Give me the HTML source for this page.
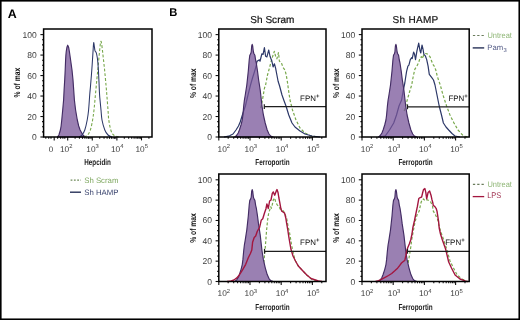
<!DOCTYPE html>
<html><head><meta charset="utf-8"><style>
html,body{margin:0;padding:0;background:#fff;width:520px;height:320px;overflow:hidden}
svg{display:block;will-change:transform}
text{font-family:"Liberation Sans", sans-serif;text-rendering:geometricPrecision}
</style></head><body>
<svg width="520" height="320" viewBox="0 0 520 320" font-family='"Liberation Sans", sans-serif'>
<rect width="520" height="320" fill="#fff"/>
<text x="7.7" y="17.8" font-size="12.4" font-weight="bold" fill="#000">A</text>
<text x="169.2" y="15.8" font-size="11.2" font-weight="bold" fill="#000">B</text>
<path d="M57.40,137.00 L58.90,135.00 L60.40,130.00 L61.10,126.00 L61.75,120.00 L62.70,110.00 L63.60,100.00 L64.10,90.00 L64.70,80.00 L65.20,70.00 L65.60,60.00 L65.90,55.00 L66.30,51.00 L66.80,48.00 L67.20,46.40 L67.70,45.20 L68.30,46.40 L68.80,48.00 L69.60,53.00 L70.60,60.00 L72.00,70.00 L73.00,80.00 L73.70,90.00 L74.40,100.00 L75.60,110.00 L77.30,120.00 L78.70,126.00 L80.10,130.00 L82.90,135.00 L85.20,137.00 Z" fill="#9a80b2" stroke="#432c64" stroke-width="1.15" stroke-linejoin="round"/>
<path d="M84.00,137.00 C84.60,136.67 86.53,136.17 87.60,135.00 C88.67,133.83 89.57,132.50 90.40,130.00 C91.23,127.50 92.00,123.33 92.60,120.00 C93.20,116.67 93.53,114.17 94.00,110.00 C94.47,105.83 94.93,100.00 95.40,95.00 C95.87,90.00 96.37,84.50 96.80,80.00 C97.23,75.50 97.60,72.17 98.00,68.00 C98.40,63.83 98.83,58.83 99.20,55.00 C99.57,51.17 99.93,47.27 100.20,45.00 C100.47,42.73 100.58,41.73 100.80,41.40 C101.02,41.07 101.23,41.57 101.50,43.00 C101.77,44.43 102.10,47.50 102.40,50.00 C102.70,52.50 102.93,54.67 103.30,58.00 C103.67,61.33 104.15,65.50 104.60,70.00 C105.05,74.50 105.60,80.50 106.00,85.00 C106.40,89.50 106.67,92.83 107.00,97.00 C107.33,101.17 107.70,106.17 108.00,110.00 C108.30,113.83 108.33,116.67 108.80,120.00 C109.27,123.33 110.00,127.50 110.80,130.00 C111.60,132.50 112.23,133.83 113.60,135.00 C114.97,136.17 118.10,136.67 119.00,137.00" fill="none" stroke="#78a84c" stroke-width="1.1" stroke-dasharray="2.8,1.9" stroke-linejoin="round"/>
<path d="M79.00,137.00 C79.50,136.67 81.03,136.17 82.00,135.00 C82.97,133.83 83.93,132.50 84.80,130.00 C85.67,127.50 86.57,123.33 87.20,120.00 C87.83,116.67 88.18,114.17 88.60,110.00 C89.02,105.83 89.37,99.17 89.70,95.00 C90.03,90.83 90.25,89.17 90.60,85.00 C90.95,80.83 91.43,75.00 91.80,70.00 C92.17,65.00 92.55,58.83 92.80,55.00 C93.05,51.17 93.15,49.07 93.30,47.00 C93.45,44.93 93.53,42.77 93.70,42.60 C93.87,42.43 94.10,44.70 94.30,46.00 C94.50,47.30 94.70,49.48 94.90,50.40 C95.10,51.32 95.30,51.17 95.50,51.50 C95.70,51.83 95.88,51.82 96.10,52.40 C96.32,52.98 96.55,53.73 96.80,55.00 C97.05,56.27 97.33,57.50 97.60,60.00 C97.87,62.50 98.17,66.33 98.40,70.00 C98.63,73.67 98.80,77.83 99.00,82.00 C99.20,86.17 99.27,90.33 99.60,95.00 C99.93,99.67 100.60,105.83 101.00,110.00 C101.40,114.17 101.37,116.67 102.00,120.00 C102.63,123.33 103.80,127.50 104.80,130.00 C105.80,132.50 106.80,133.83 108.00,135.00 C109.20,136.17 111.33,136.67 112.00,137.00" fill="none" stroke="#2c3868" stroke-width="1.05" stroke-linejoin="round"/>
<line x1="40.40" y1="137.00" x2="43.60" y2="137.00" stroke="#111" stroke-width="1.1"/><text x="36.80" y="140.00" font-size="8.5" text-anchor="end" fill="#3a3a3a">0</text><line x1="42.00" y1="131.88" x2="43.60" y2="131.88" stroke="#111" stroke-width="1.1"/><line x1="42.00" y1="126.76" x2="43.60" y2="126.76" stroke="#111" stroke-width="1.1"/><line x1="42.00" y1="121.64" x2="43.60" y2="121.64" stroke="#111" stroke-width="1.1"/><line x1="40.40" y1="116.52" x2="43.60" y2="116.52" stroke="#111" stroke-width="1.1"/><text x="36.80" y="119.52" font-size="8.5" text-anchor="end" fill="#3a3a3a">20</text><line x1="42.00" y1="111.40" x2="43.60" y2="111.40" stroke="#111" stroke-width="1.1"/><line x1="42.00" y1="106.28" x2="43.60" y2="106.28" stroke="#111" stroke-width="1.1"/><line x1="42.00" y1="101.16" x2="43.60" y2="101.16" stroke="#111" stroke-width="1.1"/><line x1="40.40" y1="96.04" x2="43.60" y2="96.04" stroke="#111" stroke-width="1.1"/><text x="36.80" y="99.04" font-size="8.5" text-anchor="end" fill="#3a3a3a">40</text><line x1="42.00" y1="90.92" x2="43.60" y2="90.92" stroke="#111" stroke-width="1.1"/><line x1="42.00" y1="85.80" x2="43.60" y2="85.80" stroke="#111" stroke-width="1.1"/><line x1="42.00" y1="80.68" x2="43.60" y2="80.68" stroke="#111" stroke-width="1.1"/><line x1="40.40" y1="75.56" x2="43.60" y2="75.56" stroke="#111" stroke-width="1.1"/><text x="36.80" y="78.56" font-size="8.5" text-anchor="end" fill="#3a3a3a">60</text><line x1="42.00" y1="70.44" x2="43.60" y2="70.44" stroke="#111" stroke-width="1.1"/><line x1="42.00" y1="65.32" x2="43.60" y2="65.32" stroke="#111" stroke-width="1.1"/><line x1="42.00" y1="60.20" x2="43.60" y2="60.20" stroke="#111" stroke-width="1.1"/><line x1="40.40" y1="55.08" x2="43.60" y2="55.08" stroke="#111" stroke-width="1.1"/><text x="36.80" y="58.08" font-size="8.5" text-anchor="end" fill="#3a3a3a">80</text><line x1="42.00" y1="49.96" x2="43.60" y2="49.96" stroke="#111" stroke-width="1.1"/><line x1="42.00" y1="44.84" x2="43.60" y2="44.84" stroke="#111" stroke-width="1.1"/><line x1="42.00" y1="39.72" x2="43.60" y2="39.72" stroke="#111" stroke-width="1.1"/><line x1="40.40" y1="34.60" x2="43.60" y2="34.60" stroke="#111" stroke-width="1.1"/><text x="36.80" y="37.60" font-size="8.5" text-anchor="end" fill="#3a3a3a">100</text><line x1="67.70" y1="137.00" x2="67.70" y2="140.40" stroke="#111" stroke-width="1.1"/><line x1="75.11" y1="137.00" x2="75.11" y2="138.80" stroke="#111" stroke-width="1.1"/><line x1="79.44" y1="137.00" x2="79.44" y2="138.80" stroke="#111" stroke-width="1.1"/><line x1="82.51" y1="137.00" x2="82.51" y2="138.80" stroke="#111" stroke-width="1.1"/><line x1="84.89" y1="137.00" x2="84.89" y2="138.80" stroke="#111" stroke-width="1.1"/><line x1="86.84" y1="137.00" x2="86.84" y2="138.80" stroke="#111" stroke-width="1.1"/><line x1="88.49" y1="137.00" x2="88.49" y2="138.80" stroke="#111" stroke-width="1.1"/><line x1="89.92" y1="137.00" x2="89.92" y2="138.80" stroke="#111" stroke-width="1.1"/><line x1="91.17" y1="137.00" x2="91.17" y2="138.80" stroke="#111" stroke-width="1.1"/><line x1="92.30" y1="137.00" x2="92.30" y2="140.40" stroke="#111" stroke-width="1.1"/><line x1="99.71" y1="137.00" x2="99.71" y2="138.80" stroke="#111" stroke-width="1.1"/><line x1="104.04" y1="137.00" x2="104.04" y2="138.80" stroke="#111" stroke-width="1.1"/><line x1="107.11" y1="137.00" x2="107.11" y2="138.80" stroke="#111" stroke-width="1.1"/><line x1="109.49" y1="137.00" x2="109.49" y2="138.80" stroke="#111" stroke-width="1.1"/><line x1="111.44" y1="137.00" x2="111.44" y2="138.80" stroke="#111" stroke-width="1.1"/><line x1="113.09" y1="137.00" x2="113.09" y2="138.80" stroke="#111" stroke-width="1.1"/><line x1="114.52" y1="137.00" x2="114.52" y2="138.80" stroke="#111" stroke-width="1.1"/><line x1="115.77" y1="137.00" x2="115.77" y2="138.80" stroke="#111" stroke-width="1.1"/><line x1="116.90" y1="137.00" x2="116.90" y2="140.40" stroke="#111" stroke-width="1.1"/><line x1="124.31" y1="137.00" x2="124.31" y2="138.80" stroke="#111" stroke-width="1.1"/><line x1="128.64" y1="137.00" x2="128.64" y2="138.80" stroke="#111" stroke-width="1.1"/><line x1="131.71" y1="137.00" x2="131.71" y2="138.80" stroke="#111" stroke-width="1.1"/><line x1="134.09" y1="137.00" x2="134.09" y2="138.80" stroke="#111" stroke-width="1.1"/><line x1="136.04" y1="137.00" x2="136.04" y2="138.80" stroke="#111" stroke-width="1.1"/><line x1="137.69" y1="137.00" x2="137.69" y2="138.80" stroke="#111" stroke-width="1.1"/><line x1="139.12" y1="137.00" x2="139.12" y2="138.80" stroke="#111" stroke-width="1.1"/><line x1="140.37" y1="137.00" x2="140.37" y2="138.80" stroke="#111" stroke-width="1.1"/><line x1="141.50" y1="137.00" x2="141.50" y2="140.40" stroke="#111" stroke-width="1.1"/><line x1="148.91" y1="137.00" x2="148.91" y2="138.80" stroke="#111" stroke-width="1.1"/><line x1="45.80" y1="137.00" x2="45.80" y2="138.80" stroke="#111" stroke-width="1.1"/><line x1="48.70" y1="137.00" x2="48.70" y2="138.80" stroke="#111" stroke-width="1.1"/><line x1="51.00" y1="137.00" x2="51.00" y2="138.80" stroke="#111" stroke-width="1.1"/><line x1="54.20" y1="137.00" x2="54.20" y2="140.40" stroke="#111" stroke-width="1.1"/><line x1="57.60" y1="137.00" x2="57.60" y2="138.80" stroke="#111" stroke-width="1.1"/><line x1="60.60" y1="137.00" x2="60.60" y2="138.80" stroke="#111" stroke-width="1.1"/><line x1="62.90" y1="137.00" x2="62.90" y2="138.80" stroke="#111" stroke-width="1.1"/><line x1="64.80" y1="137.00" x2="64.80" y2="138.80" stroke="#111" stroke-width="1.1"/><rect x="43.60" y="29.00" width="108.40" height="108.00" fill="none" stroke="#000" stroke-width="1.5"/>
<text x="51" y="151.6" font-size="8" text-anchor="middle" fill="#3a3a3a">0</text>
<text x="66.20" y="151.60" font-size="8.3" text-anchor="middle" fill="#3a3a3a">10<tspan font-size="5.8" dy="-3.3">2</tspan></text>
<text x="92.60" y="151.60" font-size="8.3" text-anchor="middle" fill="#3a3a3a">10<tspan font-size="5.8" dy="-3.3">3</tspan></text>
<text x="117.20" y="151.60" font-size="8.3" text-anchor="middle" fill="#3a3a3a">10<tspan font-size="5.8" dy="-3.3">4</tspan></text>
<text x="141.70" y="151.60" font-size="8.3" text-anchor="middle" fill="#3a3a3a">10<tspan font-size="5.8" dy="-3.3">5</tspan></text>
<text transform="translate(19.90,82.60) rotate(-90)" x="0" y="0" font-size="8.6" font-weight="bold" text-anchor="middle" fill="#111" textLength="29.6" lengthAdjust="spacingAndGlyphs">% of max</text>
<text x="97.60" y="165.40" font-size="8.6" font-weight="bold" text-anchor="middle" fill="#1a1a1a" textLength="26.6" lengthAdjust="spacingAndGlyphs">Hepcidin</text>
<line x1="70.6" y1="180.1" x2="81" y2="180.1" stroke="#6f8a5a" stroke-width="1.2" stroke-dasharray="1.8,1.5"/>
<text x="84.2" y="182.6" font-size="7.8" fill="#7fa860">Sh Scram</text>
<line x1="70" y1="192.2" x2="81" y2="192.2" stroke="#283258" stroke-width="1.4"/>
<text x="84.2" y="194.9" font-size="7.8" fill="#3c4670">Sh HAMP</text>
<path d="M260.80,108.00 L261.60,104.00 L262.40,100.00 L264.50,88.00 L265.60,85.00 L267.50,75.00 L269.40,68.10 L271.25,61.25 L273.10,55.00 L274.40,51.25 L275.60,56.25 L276.90,58.75 L278.50,52.50 L279.40,61.25 L281.25,62.50 L283.10,67.50 L285.00,70.00 L286.25,75.00 L287.50,82.50 L288.50,90.00 L290.00,100.00 L292.50,110.00 L296.00,120.00 L300.00,128.00 L305.00,133.00 L310.00,135.50 L318.00,137.00" fill="none" stroke="#78a84c" stroke-width="1.2" stroke-dasharray="2.8,1.9" stroke-linejoin="round"/>
<path d="M224.00,137.00 L229.60,135.80 L233.00,134.00 L236.00,130.00 L238.50,126.00 L240.20,122.00 L243.00,113.00 L245.40,106.00 L248.00,95.00 L250.50,85.00 L252.50,78.00 L254.25,72.50 L256.10,66.25 L256.90,61.50 L257.80,60.70 L259.40,59.90 L260.00,61.25 L261.90,53.75 L263.10,54.40 L264.40,47.50 L265.60,56.25 L266.90,56.90 L268.75,50.00 L270.00,56.25 L271.90,61.25 L273.10,66.90 L274.40,63.75 L275.60,68.10 L276.90,75.00 L278.10,81.25 L279.60,86.00 L282.00,95.00 L283.75,100.00 L286.00,106.00 L288.75,115.00 L292.00,123.00 L295.00,127.00 L300.00,131.00 L305.00,134.00 L312.00,136.00 L320.00,137.00" fill="none" stroke="#2c3868" stroke-width="1.2" stroke-linejoin="round"/>
<path d="M234.70,137.00 L236.00,136.00 L236.90,135.00 L238.20,133.00 L239.40,130.00 L241.00,125.00 L242.25,120.00 L242.90,115.00 L243.70,106.00 L244.40,100.00 L245.10,96.00 L246.80,85.00 L248.30,71.00 L249.20,60.00 L249.80,55.30 L250.70,53.80 L251.20,52.00 L251.40,49.50 L251.70,46.00 L252.20,44.40 L252.70,46.00 L253.10,49.50 L253.40,52.00 L254.00,53.80 L254.90,55.30 L255.60,60.00 L256.30,63.00 L257.50,71.00 L258.50,79.00 L260.20,90.00 L262.00,106.00 L263.40,115.00 L265.20,123.00 L267.20,130.00 L269.00,134.00 L270.70,136.00 L273.20,137.00 Z" fill="#78569a" fill-opacity="0.75" stroke="#432c64" stroke-width="1.15" stroke-linejoin="round"/>
<line x1="264.30" y1="106.70" x2="326.00" y2="106.70" stroke="#1e1e1e" stroke-width="1.2"/><line x1="264.30" y1="104.30" x2="264.30" y2="109.10" stroke="#1e1e1e" stroke-width="1.2"/>
<text x="300.10" y="100.60" font-size="7.9" fill="#111">FPN<tspan font-size="6" font-weight="bold" dx="0.1" dy="-3.1">+</tspan></text>
<line x1="215.60" y1="137.00" x2="218.80" y2="137.00" stroke="#111" stroke-width="1.1"/><text x="212.00" y="140.00" font-size="8.5" text-anchor="end" fill="#3a3a3a">0</text><line x1="217.20" y1="131.88" x2="218.80" y2="131.88" stroke="#111" stroke-width="1.1"/><line x1="217.20" y1="126.76" x2="218.80" y2="126.76" stroke="#111" stroke-width="1.1"/><line x1="217.20" y1="121.64" x2="218.80" y2="121.64" stroke="#111" stroke-width="1.1"/><line x1="215.60" y1="116.52" x2="218.80" y2="116.52" stroke="#111" stroke-width="1.1"/><text x="212.00" y="119.52" font-size="8.5" text-anchor="end" fill="#3a3a3a">20</text><line x1="217.20" y1="111.40" x2="218.80" y2="111.40" stroke="#111" stroke-width="1.1"/><line x1="217.20" y1="106.28" x2="218.80" y2="106.28" stroke="#111" stroke-width="1.1"/><line x1="217.20" y1="101.16" x2="218.80" y2="101.16" stroke="#111" stroke-width="1.1"/><line x1="215.60" y1="96.04" x2="218.80" y2="96.04" stroke="#111" stroke-width="1.1"/><text x="212.00" y="99.04" font-size="8.5" text-anchor="end" fill="#3a3a3a">40</text><line x1="217.20" y1="90.92" x2="218.80" y2="90.92" stroke="#111" stroke-width="1.1"/><line x1="217.20" y1="85.80" x2="218.80" y2="85.80" stroke="#111" stroke-width="1.1"/><line x1="217.20" y1="80.68" x2="218.80" y2="80.68" stroke="#111" stroke-width="1.1"/><line x1="215.60" y1="75.56" x2="218.80" y2="75.56" stroke="#111" stroke-width="1.1"/><text x="212.00" y="78.56" font-size="8.5" text-anchor="end" fill="#3a3a3a">60</text><line x1="217.20" y1="70.44" x2="218.80" y2="70.44" stroke="#111" stroke-width="1.1"/><line x1="217.20" y1="65.32" x2="218.80" y2="65.32" stroke="#111" stroke-width="1.1"/><line x1="217.20" y1="60.20" x2="218.80" y2="60.20" stroke="#111" stroke-width="1.1"/><line x1="215.60" y1="55.08" x2="218.80" y2="55.08" stroke="#111" stroke-width="1.1"/><text x="212.00" y="58.08" font-size="8.5" text-anchor="end" fill="#3a3a3a">80</text><line x1="217.20" y1="49.96" x2="218.80" y2="49.96" stroke="#111" stroke-width="1.1"/><line x1="217.20" y1="44.84" x2="218.80" y2="44.84" stroke="#111" stroke-width="1.1"/><line x1="217.20" y1="39.72" x2="218.80" y2="39.72" stroke="#111" stroke-width="1.1"/><line x1="215.60" y1="34.60" x2="218.80" y2="34.60" stroke="#111" stroke-width="1.1"/><text x="212.00" y="37.60" font-size="8.5" text-anchor="end" fill="#3a3a3a">100</text><line x1="218.80" y1="137.00" x2="218.80" y2="140.40" stroke="#111" stroke-width="1.1"/><line x1="228.19" y1="137.00" x2="228.19" y2="138.80" stroke="#111" stroke-width="1.1"/><line x1="233.69" y1="137.00" x2="233.69" y2="138.80" stroke="#111" stroke-width="1.1"/><line x1="237.58" y1="137.00" x2="237.58" y2="138.80" stroke="#111" stroke-width="1.1"/><line x1="240.61" y1="137.00" x2="240.61" y2="138.80" stroke="#111" stroke-width="1.1"/><line x1="243.08" y1="137.00" x2="243.08" y2="138.80" stroke="#111" stroke-width="1.1"/><line x1="245.17" y1="137.00" x2="245.17" y2="138.80" stroke="#111" stroke-width="1.1"/><line x1="246.98" y1="137.00" x2="246.98" y2="138.80" stroke="#111" stroke-width="1.1"/><line x1="248.57" y1="137.00" x2="248.57" y2="138.80" stroke="#111" stroke-width="1.1"/><line x1="250.00" y1="137.00" x2="250.00" y2="140.40" stroke="#111" stroke-width="1.1"/><line x1="259.39" y1="137.00" x2="259.39" y2="138.80" stroke="#111" stroke-width="1.1"/><line x1="264.89" y1="137.00" x2="264.89" y2="138.80" stroke="#111" stroke-width="1.1"/><line x1="268.78" y1="137.00" x2="268.78" y2="138.80" stroke="#111" stroke-width="1.1"/><line x1="271.81" y1="137.00" x2="271.81" y2="138.80" stroke="#111" stroke-width="1.1"/><line x1="274.28" y1="137.00" x2="274.28" y2="138.80" stroke="#111" stroke-width="1.1"/><line x1="276.37" y1="137.00" x2="276.37" y2="138.80" stroke="#111" stroke-width="1.1"/><line x1="278.18" y1="137.00" x2="278.18" y2="138.80" stroke="#111" stroke-width="1.1"/><line x1="279.77" y1="137.00" x2="279.77" y2="138.80" stroke="#111" stroke-width="1.1"/><line x1="281.20" y1="137.00" x2="281.20" y2="140.40" stroke="#111" stroke-width="1.1"/><line x1="290.59" y1="137.00" x2="290.59" y2="138.80" stroke="#111" stroke-width="1.1"/><line x1="296.09" y1="137.00" x2="296.09" y2="138.80" stroke="#111" stroke-width="1.1"/><line x1="299.98" y1="137.00" x2="299.98" y2="138.80" stroke="#111" stroke-width="1.1"/><line x1="303.01" y1="137.00" x2="303.01" y2="138.80" stroke="#111" stroke-width="1.1"/><line x1="305.48" y1="137.00" x2="305.48" y2="138.80" stroke="#111" stroke-width="1.1"/><line x1="307.57" y1="137.00" x2="307.57" y2="138.80" stroke="#111" stroke-width="1.1"/><line x1="309.38" y1="137.00" x2="309.38" y2="138.80" stroke="#111" stroke-width="1.1"/><line x1="310.97" y1="137.00" x2="310.97" y2="138.80" stroke="#111" stroke-width="1.1"/><line x1="312.40" y1="137.00" x2="312.40" y2="140.40" stroke="#111" stroke-width="1.1"/><line x1="321.79" y1="137.00" x2="321.79" y2="138.80" stroke="#111" stroke-width="1.1"/><rect x="218.80" y="29.00" width="107.20" height="108.00" fill="none" stroke="#000" stroke-width="1.5"/><text x="223.80" y="151.60" font-size="8.3" text-anchor="middle" fill="#3a3a3a">10<tspan font-size="5.8" dy="-3.3">2</tspan></text><text x="250.80" y="151.60" font-size="8.3" text-anchor="middle" fill="#3a3a3a">10<tspan font-size="5.8" dy="-3.3">3</tspan></text><text x="282.00" y="151.60" font-size="8.3" text-anchor="middle" fill="#3a3a3a">10<tspan font-size="5.8" dy="-3.3">4</tspan></text><text x="313.20" y="151.60" font-size="8.3" text-anchor="middle" fill="#3a3a3a">10<tspan font-size="5.8" dy="-3.3">5</tspan></text><text transform="translate(195.70,83.20) rotate(-90)" x="0" y="0" font-size="8.6" font-weight="bold" text-anchor="middle" fill="#111" textLength="29.6" lengthAdjust="spacingAndGlyphs">% of max</text><text x="272.40" y="165.40" font-size="8.6" font-weight="bold" text-anchor="middle" fill="#1a1a1a" textLength="34.3" lengthAdjust="spacingAndGlyphs">Ferroportin</text><text x="272.40" y="22.7" font-size="10" letter-spacing="0.02" text-anchor="middle" fill="#111" stroke="#111" stroke-width="0.2">Sh Scram</text>
<path d="M404.20,111.00 L405.50,106.00 L407.25,100.00 L409.50,92.00 L411.70,85.00 L413.30,76.00 L414.90,69.10 L416.90,66.10 L418.70,62.40 L420.10,57.70 L421.60,56.70 L422.50,58.60 L423.90,54.40 L425.50,53.50 L427.20,53.90 L430.00,56.70 L431.40,60.50 L432.80,64.20 L434.20,66.10 L435.80,70.00 L437.10,75.50 L438.50,80.00 L440.30,85.00 L443.00,95.00 L446.60,106.00 L450.00,115.00 L454.00,123.00 L458.00,130.00 L463.50,136.00 L468.00,137.00" fill="none" stroke="#78a84c" stroke-width="1.2" stroke-dasharray="2.8,1.9" stroke-linejoin="round"/>
<path d="M380.00,137.00 L385.30,135.80 L389.50,130.00 L393.70,123.00 L396.50,115.00 L399.00,106.00 L401.60,100.00 L403.50,89.00 L404.80,83.00 L405.70,77.00 L406.60,71.30 L407.90,66.20 L408.90,65.20 L410.30,59.60 L411.70,57.70 L412.20,58.60 L413.60,52.10 L414.50,53.90 L415.50,59.60 L416.90,51.10 L418.70,43.20 L420.10,51.10 L420.80,53.00 L422.00,45.00 L423.00,49.20 L423.90,54.40 L425.30,55.80 L426.70,59.60 L428.10,66.10 L429.30,74.40 L431.80,77.60 L433.50,80.00 L435.00,85.00 L437.00,95.00 L439.20,106.00 L441.50,115.00 L443.40,123.00 L446.00,127.00 L448.70,130.00 L452.00,133.50 L455.00,136.00 L460.00,137.00" fill="none" stroke="#2c3868" stroke-width="1.2" stroke-linejoin="round"/>
<path d="M378.40,137.00 L379.70,136.00 L380.60,135.00 L381.90,133.00 L383.10,130.00 L384.70,125.00 L385.95,120.00 L386.60,115.00 L387.40,106.00 L388.10,100.00 L388.80,96.00 L390.50,85.00 L392.00,71.00 L392.90,60.00 L393.50,55.30 L394.40,53.80 L394.90,52.00 L395.10,49.50 L395.40,46.00 L395.90,44.40 L396.40,46.00 L396.80,49.50 L397.10,52.00 L397.70,53.80 L398.60,55.30 L399.30,60.00 L400.00,63.00 L401.20,71.00 L402.20,79.00 L403.90,90.00 L405.70,106.00 L407.10,115.00 L408.90,123.00 L410.90,130.00 L412.70,134.00 L414.40,136.00 L416.90,137.00 Z" fill="#78569a" fill-opacity="0.75" stroke="#432c64" stroke-width="1.15" stroke-linejoin="round"/>
<line x1="407.50" y1="106.80" x2="469.20" y2="106.80" stroke="#1e1e1e" stroke-width="1.2"/><line x1="407.50" y1="104.40" x2="407.50" y2="109.20" stroke="#1e1e1e" stroke-width="1.2"/>
<text x="448.40" y="100.60" font-size="7.9" fill="#111">FPN<tspan font-size="6" font-weight="bold" dx="0.1" dy="-3.1">+</tspan></text>
<line x1="358.80" y1="137.00" x2="362.00" y2="137.00" stroke="#111" stroke-width="1.1"/><text x="355.20" y="140.00" font-size="8.5" text-anchor="end" fill="#3a3a3a">0</text><line x1="360.40" y1="131.88" x2="362.00" y2="131.88" stroke="#111" stroke-width="1.1"/><line x1="360.40" y1="126.76" x2="362.00" y2="126.76" stroke="#111" stroke-width="1.1"/><line x1="360.40" y1="121.64" x2="362.00" y2="121.64" stroke="#111" stroke-width="1.1"/><line x1="358.80" y1="116.52" x2="362.00" y2="116.52" stroke="#111" stroke-width="1.1"/><text x="355.20" y="119.52" font-size="8.5" text-anchor="end" fill="#3a3a3a">20</text><line x1="360.40" y1="111.40" x2="362.00" y2="111.40" stroke="#111" stroke-width="1.1"/><line x1="360.40" y1="106.28" x2="362.00" y2="106.28" stroke="#111" stroke-width="1.1"/><line x1="360.40" y1="101.16" x2="362.00" y2="101.16" stroke="#111" stroke-width="1.1"/><line x1="358.80" y1="96.04" x2="362.00" y2="96.04" stroke="#111" stroke-width="1.1"/><text x="355.20" y="99.04" font-size="8.5" text-anchor="end" fill="#3a3a3a">40</text><line x1="360.40" y1="90.92" x2="362.00" y2="90.92" stroke="#111" stroke-width="1.1"/><line x1="360.40" y1="85.80" x2="362.00" y2="85.80" stroke="#111" stroke-width="1.1"/><line x1="360.40" y1="80.68" x2="362.00" y2="80.68" stroke="#111" stroke-width="1.1"/><line x1="358.80" y1="75.56" x2="362.00" y2="75.56" stroke="#111" stroke-width="1.1"/><text x="355.20" y="78.56" font-size="8.5" text-anchor="end" fill="#3a3a3a">60</text><line x1="360.40" y1="70.44" x2="362.00" y2="70.44" stroke="#111" stroke-width="1.1"/><line x1="360.40" y1="65.32" x2="362.00" y2="65.32" stroke="#111" stroke-width="1.1"/><line x1="360.40" y1="60.20" x2="362.00" y2="60.20" stroke="#111" stroke-width="1.1"/><line x1="358.80" y1="55.08" x2="362.00" y2="55.08" stroke="#111" stroke-width="1.1"/><text x="355.20" y="58.08" font-size="8.5" text-anchor="end" fill="#3a3a3a">80</text><line x1="360.40" y1="49.96" x2="362.00" y2="49.96" stroke="#111" stroke-width="1.1"/><line x1="360.40" y1="44.84" x2="362.00" y2="44.84" stroke="#111" stroke-width="1.1"/><line x1="360.40" y1="39.72" x2="362.00" y2="39.72" stroke="#111" stroke-width="1.1"/><line x1="358.80" y1="34.60" x2="362.00" y2="34.60" stroke="#111" stroke-width="1.1"/><text x="355.20" y="37.60" font-size="8.5" text-anchor="end" fill="#3a3a3a">100</text><line x1="362.00" y1="137.00" x2="362.00" y2="140.40" stroke="#111" stroke-width="1.1"/><line x1="371.39" y1="137.00" x2="371.39" y2="138.80" stroke="#111" stroke-width="1.1"/><line x1="376.89" y1="137.00" x2="376.89" y2="138.80" stroke="#111" stroke-width="1.1"/><line x1="380.78" y1="137.00" x2="380.78" y2="138.80" stroke="#111" stroke-width="1.1"/><line x1="383.81" y1="137.00" x2="383.81" y2="138.80" stroke="#111" stroke-width="1.1"/><line x1="386.28" y1="137.00" x2="386.28" y2="138.80" stroke="#111" stroke-width="1.1"/><line x1="388.37" y1="137.00" x2="388.37" y2="138.80" stroke="#111" stroke-width="1.1"/><line x1="390.18" y1="137.00" x2="390.18" y2="138.80" stroke="#111" stroke-width="1.1"/><line x1="391.77" y1="137.00" x2="391.77" y2="138.80" stroke="#111" stroke-width="1.1"/><line x1="393.20" y1="137.00" x2="393.20" y2="140.40" stroke="#111" stroke-width="1.1"/><line x1="402.59" y1="137.00" x2="402.59" y2="138.80" stroke="#111" stroke-width="1.1"/><line x1="408.09" y1="137.00" x2="408.09" y2="138.80" stroke="#111" stroke-width="1.1"/><line x1="411.98" y1="137.00" x2="411.98" y2="138.80" stroke="#111" stroke-width="1.1"/><line x1="415.01" y1="137.00" x2="415.01" y2="138.80" stroke="#111" stroke-width="1.1"/><line x1="417.48" y1="137.00" x2="417.48" y2="138.80" stroke="#111" stroke-width="1.1"/><line x1="419.57" y1="137.00" x2="419.57" y2="138.80" stroke="#111" stroke-width="1.1"/><line x1="421.38" y1="137.00" x2="421.38" y2="138.80" stroke="#111" stroke-width="1.1"/><line x1="422.97" y1="137.00" x2="422.97" y2="138.80" stroke="#111" stroke-width="1.1"/><line x1="424.40" y1="137.00" x2="424.40" y2="140.40" stroke="#111" stroke-width="1.1"/><line x1="433.79" y1="137.00" x2="433.79" y2="138.80" stroke="#111" stroke-width="1.1"/><line x1="439.29" y1="137.00" x2="439.29" y2="138.80" stroke="#111" stroke-width="1.1"/><line x1="443.18" y1="137.00" x2="443.18" y2="138.80" stroke="#111" stroke-width="1.1"/><line x1="446.21" y1="137.00" x2="446.21" y2="138.80" stroke="#111" stroke-width="1.1"/><line x1="448.68" y1="137.00" x2="448.68" y2="138.80" stroke="#111" stroke-width="1.1"/><line x1="450.77" y1="137.00" x2="450.77" y2="138.80" stroke="#111" stroke-width="1.1"/><line x1="452.58" y1="137.00" x2="452.58" y2="138.80" stroke="#111" stroke-width="1.1"/><line x1="454.17" y1="137.00" x2="454.17" y2="138.80" stroke="#111" stroke-width="1.1"/><line x1="455.60" y1="137.00" x2="455.60" y2="140.40" stroke="#111" stroke-width="1.1"/><line x1="464.99" y1="137.00" x2="464.99" y2="138.80" stroke="#111" stroke-width="1.1"/><rect x="362.00" y="29.00" width="107.20" height="108.00" fill="none" stroke="#000" stroke-width="1.5"/><text x="367.00" y="151.60" font-size="8.3" text-anchor="middle" fill="#3a3a3a">10<tspan font-size="5.8" dy="-3.3">2</tspan></text><text x="394.00" y="151.60" font-size="8.3" text-anchor="middle" fill="#3a3a3a">10<tspan font-size="5.8" dy="-3.3">3</tspan></text><text x="425.20" y="151.60" font-size="8.3" text-anchor="middle" fill="#3a3a3a">10<tspan font-size="5.8" dy="-3.3">4</tspan></text><text x="456.40" y="151.60" font-size="8.3" text-anchor="middle" fill="#3a3a3a">10<tspan font-size="5.8" dy="-3.3">5</tspan></text><text transform="translate(338.90,83.20) rotate(-90)" x="0" y="0" font-size="8.6" font-weight="bold" text-anchor="middle" fill="#111" textLength="29.6" lengthAdjust="spacingAndGlyphs">% of max</text><text x="415.60" y="165.40" font-size="8.6" font-weight="bold" text-anchor="middle" fill="#1a1a1a" textLength="34.3" lengthAdjust="spacingAndGlyphs">Ferroportin</text><text x="415.60" y="22.7" font-size="10" letter-spacing="0.3" text-anchor="middle" fill="#111" stroke="#111" stroke-width="0.2">Sh HAMP</text>
<line x1="472.9" y1="35.5" x2="484.4" y2="35.5" stroke="#6a7c5c" stroke-width="1.2" stroke-dasharray="2.3,2"/>
<text x="487.5" y="37.8" font-size="8" fill="#8db574" textLength="24.4" lengthAdjust="spacingAndGlyphs">Untreat</text>
<line x1="472.7" y1="47.9" x2="484.2" y2="47.9" stroke="#283258" stroke-width="1.4"/>
<text x="487.3" y="49.6" font-size="7.7" fill="#525a85">Pam<tspan font-size="5.8" dx="0.3" dy="2.6">3</tspan></text>
<path d="M262.00,281.50 L263.00,272.00 L264.00,260.00 L265.00,251.00 L266.60,230.00 L267.60,220.00 L268.70,213.00 L270.80,206.70 L271.40,208.30 L272.30,204.60 L273.30,199.90 L274.70,198.00 L275.60,201.70 L277.00,204.60 L278.90,206.40 L280.30,209.20 L283.50,211.00 L285.00,214.00 L286.80,219.00 L288.00,226.00 L289.60,233.00 L291.60,245.00 L292.80,251.00 L295.00,260.00 L298.30,266.00 L306.80,275.00 L312.00,279.50 L320.00,281.50" fill="none" stroke="#78a84c" stroke-width="1.2" stroke-dasharray="2.8,1.9" stroke-linejoin="round"/>
<path d="M234.70,281.50 L236.00,280.51 L236.90,279.51 L238.20,277.53 L239.40,274.55 L241.00,269.58 L242.25,264.62 L242.90,259.65 L243.70,250.72 L244.40,244.76 L245.10,240.79 L246.80,229.86 L248.30,215.96 L249.20,205.04 L249.80,200.37 L250.70,198.88 L251.20,197.09 L251.40,194.61 L251.70,191.14 L252.20,189.55 L252.70,191.14 L253.10,194.61 L253.40,197.09 L254.00,198.88 L254.90,200.37 L255.60,205.04 L256.30,208.02 L257.50,215.96 L258.50,223.91 L260.20,234.83 L262.00,250.72 L263.40,259.65 L265.20,267.60 L267.20,274.55 L269.00,278.52 L270.70,280.51 L273.20,281.50 Z" fill="#9a80b2" stroke="#432c64" stroke-width="1.15" stroke-linejoin="round"/>
<path d="M227.00,281.50 L230.00,281.30 L233.90,280.00 L236.50,278.20 L238.50,276.10 L240.50,273.20 L242.40,270.20 L244.00,267.30 L245.70,264.30 L247.00,261.00 L248.30,257.70 L250.30,253.80 L251.80,250.00 L252.60,242.20 L254.20,237.50 L255.70,236.00 L257.30,231.25 L259.60,227.30 L261.20,220.30 L262.75,218.75 L264.50,213.00 L265.90,209.00 L266.90,204.00 L268.30,208.50 L269.60,201.00 L271.00,200.00 L272.30,193.30 L273.30,191.90 L274.70,195.20 L276.10,191.40 L277.00,189.60 L278.00,192.40 L278.90,198.00 L279.80,202.70 L280.80,208.30 L281.70,211.10 L283.00,212.00 L284.60,213.10 L285.80,218.00 L286.70,223.70 L287.80,230.00 L289.00,238.00 L290.90,249.00 L293.00,256.00 L295.50,261.00 L298.30,266.00 L302.00,270.00 L306.80,275.00 L311.00,278.50 L318.40,281.00 L322.00,281.50" fill="none" stroke="#a3163f" stroke-width="1.4" stroke-linejoin="round"/>
<line x1="264.50" y1="251.30" x2="326.00" y2="251.30" stroke="#1e1e1e" stroke-width="1.2"/><line x1="264.50" y1="248.90" x2="264.50" y2="253.70" stroke="#1e1e1e" stroke-width="1.2"/>
<text x="300.10" y="245.20" font-size="7.9" fill="#111">FPN<tspan font-size="6" font-weight="bold" dx="0.1" dy="-3.1">+</tspan></text>
<line x1="215.60" y1="281.50" x2="218.80" y2="281.50" stroke="#111" stroke-width="1.1"/><text x="212.00" y="284.50" font-size="8.5" text-anchor="end" fill="#3a3a3a">0</text><line x1="217.20" y1="276.42" x2="218.80" y2="276.42" stroke="#111" stroke-width="1.1"/><line x1="217.20" y1="271.33" x2="218.80" y2="271.33" stroke="#111" stroke-width="1.1"/><line x1="217.20" y1="266.25" x2="218.80" y2="266.25" stroke="#111" stroke-width="1.1"/><line x1="215.60" y1="261.16" x2="218.80" y2="261.16" stroke="#111" stroke-width="1.1"/><text x="212.00" y="264.16" font-size="8.5" text-anchor="end" fill="#3a3a3a">20</text><line x1="217.20" y1="256.07" x2="218.80" y2="256.07" stroke="#111" stroke-width="1.1"/><line x1="217.20" y1="250.99" x2="218.80" y2="250.99" stroke="#111" stroke-width="1.1"/><line x1="217.20" y1="245.91" x2="218.80" y2="245.91" stroke="#111" stroke-width="1.1"/><line x1="215.60" y1="240.82" x2="218.80" y2="240.82" stroke="#111" stroke-width="1.1"/><text x="212.00" y="243.82" font-size="8.5" text-anchor="end" fill="#3a3a3a">40</text><line x1="217.20" y1="235.74" x2="218.80" y2="235.74" stroke="#111" stroke-width="1.1"/><line x1="217.20" y1="230.65" x2="218.80" y2="230.65" stroke="#111" stroke-width="1.1"/><line x1="217.20" y1="225.56" x2="218.80" y2="225.56" stroke="#111" stroke-width="1.1"/><line x1="215.60" y1="220.48" x2="218.80" y2="220.48" stroke="#111" stroke-width="1.1"/><text x="212.00" y="223.48" font-size="8.5" text-anchor="end" fill="#3a3a3a">60</text><line x1="217.20" y1="215.40" x2="218.80" y2="215.40" stroke="#111" stroke-width="1.1"/><line x1="217.20" y1="210.31" x2="218.80" y2="210.31" stroke="#111" stroke-width="1.1"/><line x1="217.20" y1="205.23" x2="218.80" y2="205.23" stroke="#111" stroke-width="1.1"/><line x1="215.60" y1="200.14" x2="218.80" y2="200.14" stroke="#111" stroke-width="1.1"/><text x="212.00" y="203.14" font-size="8.5" text-anchor="end" fill="#3a3a3a">80</text><line x1="217.20" y1="195.06" x2="218.80" y2="195.06" stroke="#111" stroke-width="1.1"/><line x1="217.20" y1="189.97" x2="218.80" y2="189.97" stroke="#111" stroke-width="1.1"/><line x1="217.20" y1="184.89" x2="218.80" y2="184.89" stroke="#111" stroke-width="1.1"/><line x1="215.60" y1="179.80" x2="218.80" y2="179.80" stroke="#111" stroke-width="1.1"/><text x="212.00" y="182.80" font-size="8.5" text-anchor="end" fill="#3a3a3a">100</text><line x1="218.80" y1="281.50" x2="218.80" y2="284.90" stroke="#111" stroke-width="1.1"/><line x1="228.19" y1="281.50" x2="228.19" y2="283.30" stroke="#111" stroke-width="1.1"/><line x1="233.69" y1="281.50" x2="233.69" y2="283.30" stroke="#111" stroke-width="1.1"/><line x1="237.58" y1="281.50" x2="237.58" y2="283.30" stroke="#111" stroke-width="1.1"/><line x1="240.61" y1="281.50" x2="240.61" y2="283.30" stroke="#111" stroke-width="1.1"/><line x1="243.08" y1="281.50" x2="243.08" y2="283.30" stroke="#111" stroke-width="1.1"/><line x1="245.17" y1="281.50" x2="245.17" y2="283.30" stroke="#111" stroke-width="1.1"/><line x1="246.98" y1="281.50" x2="246.98" y2="283.30" stroke="#111" stroke-width="1.1"/><line x1="248.57" y1="281.50" x2="248.57" y2="283.30" stroke="#111" stroke-width="1.1"/><line x1="250.00" y1="281.50" x2="250.00" y2="284.90" stroke="#111" stroke-width="1.1"/><line x1="259.39" y1="281.50" x2="259.39" y2="283.30" stroke="#111" stroke-width="1.1"/><line x1="264.89" y1="281.50" x2="264.89" y2="283.30" stroke="#111" stroke-width="1.1"/><line x1="268.78" y1="281.50" x2="268.78" y2="283.30" stroke="#111" stroke-width="1.1"/><line x1="271.81" y1="281.50" x2="271.81" y2="283.30" stroke="#111" stroke-width="1.1"/><line x1="274.28" y1="281.50" x2="274.28" y2="283.30" stroke="#111" stroke-width="1.1"/><line x1="276.37" y1="281.50" x2="276.37" y2="283.30" stroke="#111" stroke-width="1.1"/><line x1="278.18" y1="281.50" x2="278.18" y2="283.30" stroke="#111" stroke-width="1.1"/><line x1="279.77" y1="281.50" x2="279.77" y2="283.30" stroke="#111" stroke-width="1.1"/><line x1="281.20" y1="281.50" x2="281.20" y2="284.90" stroke="#111" stroke-width="1.1"/><line x1="290.59" y1="281.50" x2="290.59" y2="283.30" stroke="#111" stroke-width="1.1"/><line x1="296.09" y1="281.50" x2="296.09" y2="283.30" stroke="#111" stroke-width="1.1"/><line x1="299.98" y1="281.50" x2="299.98" y2="283.30" stroke="#111" stroke-width="1.1"/><line x1="303.01" y1="281.50" x2="303.01" y2="283.30" stroke="#111" stroke-width="1.1"/><line x1="305.48" y1="281.50" x2="305.48" y2="283.30" stroke="#111" stroke-width="1.1"/><line x1="307.57" y1="281.50" x2="307.57" y2="283.30" stroke="#111" stroke-width="1.1"/><line x1="309.38" y1="281.50" x2="309.38" y2="283.30" stroke="#111" stroke-width="1.1"/><line x1="310.97" y1="281.50" x2="310.97" y2="283.30" stroke="#111" stroke-width="1.1"/><line x1="312.40" y1="281.50" x2="312.40" y2="284.90" stroke="#111" stroke-width="1.1"/><line x1="321.79" y1="281.50" x2="321.79" y2="283.30" stroke="#111" stroke-width="1.1"/><rect x="218.80" y="174.00" width="107.20" height="107.50" fill="none" stroke="#000" stroke-width="1.5"/><text x="223.80" y="296.10" font-size="8.3" text-anchor="middle" fill="#3a3a3a">10<tspan font-size="5.8" dy="-3.3">2</tspan></text><text x="250.80" y="296.10" font-size="8.3" text-anchor="middle" fill="#3a3a3a">10<tspan font-size="5.8" dy="-3.3">3</tspan></text><text x="282.00" y="296.10" font-size="8.3" text-anchor="middle" fill="#3a3a3a">10<tspan font-size="5.8" dy="-3.3">4</tspan></text><text x="313.20" y="296.10" font-size="8.3" text-anchor="middle" fill="#3a3a3a">10<tspan font-size="5.8" dy="-3.3">5</tspan></text><text transform="translate(195.70,227.95) rotate(-90)" x="0" y="0" font-size="8.6" font-weight="bold" text-anchor="middle" fill="#111" textLength="29.6" lengthAdjust="spacingAndGlyphs">% of max</text><text x="272.40" y="309.90" font-size="8.6" font-weight="bold" text-anchor="middle" fill="#1a1a1a" textLength="34.3" lengthAdjust="spacingAndGlyphs">Ferroportin</text>
<path d="M405.00,281.50 L407.00,270.00 L409.00,258.00 L410.50,249.00 L412.00,238.00 L413.50,230.00 L415.00,222.00 L417.00,215.00 L419.20,211.10 L420.70,203.60 L422.00,199.90 L423.50,198.90 L424.90,200.80 L426.30,200.00 L427.70,199.90 L430.50,201.70 L432.40,205.50 L433.30,211.10 L435.00,214.00 L437.50,219.00 L439.60,228.00 L441.60,234.00 L443.70,240.00 L446.70,249.00 L450.00,261.00 L453.50,268.00 L457.20,275.00 L462.00,279.00 L467.00,281.50" fill="none" stroke="#78a84c" stroke-width="1.2" stroke-dasharray="2.8,1.9" stroke-linejoin="round"/>
<path d="M378.40,281.50 L379.70,280.51 L380.60,279.51 L381.90,277.53 L383.10,274.55 L384.70,269.58 L385.95,264.62 L386.60,259.65 L387.40,250.72 L388.10,244.76 L388.80,240.79 L390.50,229.86 L392.00,215.96 L392.90,205.04 L393.50,200.37 L394.40,198.88 L394.90,197.09 L395.10,194.61 L395.40,191.14 L395.90,189.55 L396.40,191.14 L396.80,194.61 L397.10,197.09 L397.70,198.88 L398.60,200.37 L399.30,205.04 L400.00,208.02 L401.20,215.96 L402.20,223.91 L403.90,234.83 L405.70,250.72 L407.10,259.65 L408.90,267.60 L410.90,274.55 L412.70,278.52 L414.40,280.51 L416.90,281.50 Z" fill="#9a80b2" stroke="#432c64" stroke-width="1.15" stroke-linejoin="round"/>
<path d="M375.50,281.50 L378.60,280.70 L381.80,279.20 L385.10,277.40 L388.50,275.50 L391.70,273.50 L394.80,270.80 L397.60,268.20 L399.80,265.30 L401.50,263.00 L403.30,261.50 L404.80,260.40 L405.80,256.00 L406.80,250.50 L407.80,247.50 L409.30,244.00 L410.70,240.00 L412.00,234.00 L412.80,228.00 L414.50,220.50 L416.40,211.10 L417.40,206.40 L418.80,198.50 L420.20,197.50 L421.60,197.10 L422.50,193.30 L423.50,189.60 L424.90,188.60 L425.80,192.40 L426.70,198.90 L428.10,192.40 L429.60,191.00 L431.00,195.20 L431.90,199.40 L432.80,202.70 L433.30,205.50 L434.70,206.40 L436.10,208.30 L437.00,211.10 L438.60,221.50 L439.20,228.00 L440.50,234.00 L442.40,240.00 L445.60,249.00 L448.70,262.00 L451.50,268.00 L455.10,275.00 L460.00,279.00 L465.70,281.20 L468.00,281.50" fill="none" stroke="#a3163f" stroke-width="1.4" stroke-linejoin="round"/>
<line x1="407.50" y1="251.30" x2="469.20" y2="251.30" stroke="#1e1e1e" stroke-width="1.2"/><line x1="407.50" y1="248.90" x2="407.50" y2="253.70" stroke="#1e1e1e" stroke-width="1.2"/>
<text x="445.30" y="245.20" font-size="7.9" fill="#111">FPN<tspan font-size="6" font-weight="bold" dx="0.1" dy="-3.1">+</tspan></text>
<line x1="358.80" y1="281.50" x2="362.00" y2="281.50" stroke="#111" stroke-width="1.1"/><text x="355.20" y="284.50" font-size="8.5" text-anchor="end" fill="#3a3a3a">0</text><line x1="360.40" y1="276.42" x2="362.00" y2="276.42" stroke="#111" stroke-width="1.1"/><line x1="360.40" y1="271.33" x2="362.00" y2="271.33" stroke="#111" stroke-width="1.1"/><line x1="360.40" y1="266.25" x2="362.00" y2="266.25" stroke="#111" stroke-width="1.1"/><line x1="358.80" y1="261.16" x2="362.00" y2="261.16" stroke="#111" stroke-width="1.1"/><text x="355.20" y="264.16" font-size="8.5" text-anchor="end" fill="#3a3a3a">20</text><line x1="360.40" y1="256.07" x2="362.00" y2="256.07" stroke="#111" stroke-width="1.1"/><line x1="360.40" y1="250.99" x2="362.00" y2="250.99" stroke="#111" stroke-width="1.1"/><line x1="360.40" y1="245.91" x2="362.00" y2="245.91" stroke="#111" stroke-width="1.1"/><line x1="358.80" y1="240.82" x2="362.00" y2="240.82" stroke="#111" stroke-width="1.1"/><text x="355.20" y="243.82" font-size="8.5" text-anchor="end" fill="#3a3a3a">40</text><line x1="360.40" y1="235.74" x2="362.00" y2="235.74" stroke="#111" stroke-width="1.1"/><line x1="360.40" y1="230.65" x2="362.00" y2="230.65" stroke="#111" stroke-width="1.1"/><line x1="360.40" y1="225.56" x2="362.00" y2="225.56" stroke="#111" stroke-width="1.1"/><line x1="358.80" y1="220.48" x2="362.00" y2="220.48" stroke="#111" stroke-width="1.1"/><text x="355.20" y="223.48" font-size="8.5" text-anchor="end" fill="#3a3a3a">60</text><line x1="360.40" y1="215.40" x2="362.00" y2="215.40" stroke="#111" stroke-width="1.1"/><line x1="360.40" y1="210.31" x2="362.00" y2="210.31" stroke="#111" stroke-width="1.1"/><line x1="360.40" y1="205.23" x2="362.00" y2="205.23" stroke="#111" stroke-width="1.1"/><line x1="358.80" y1="200.14" x2="362.00" y2="200.14" stroke="#111" stroke-width="1.1"/><text x="355.20" y="203.14" font-size="8.5" text-anchor="end" fill="#3a3a3a">80</text><line x1="360.40" y1="195.06" x2="362.00" y2="195.06" stroke="#111" stroke-width="1.1"/><line x1="360.40" y1="189.97" x2="362.00" y2="189.97" stroke="#111" stroke-width="1.1"/><line x1="360.40" y1="184.89" x2="362.00" y2="184.89" stroke="#111" stroke-width="1.1"/><line x1="358.80" y1="179.80" x2="362.00" y2="179.80" stroke="#111" stroke-width="1.1"/><text x="355.20" y="182.80" font-size="8.5" text-anchor="end" fill="#3a3a3a">100</text><line x1="362.00" y1="281.50" x2="362.00" y2="284.90" stroke="#111" stroke-width="1.1"/><line x1="371.39" y1="281.50" x2="371.39" y2="283.30" stroke="#111" stroke-width="1.1"/><line x1="376.89" y1="281.50" x2="376.89" y2="283.30" stroke="#111" stroke-width="1.1"/><line x1="380.78" y1="281.50" x2="380.78" y2="283.30" stroke="#111" stroke-width="1.1"/><line x1="383.81" y1="281.50" x2="383.81" y2="283.30" stroke="#111" stroke-width="1.1"/><line x1="386.28" y1="281.50" x2="386.28" y2="283.30" stroke="#111" stroke-width="1.1"/><line x1="388.37" y1="281.50" x2="388.37" y2="283.30" stroke="#111" stroke-width="1.1"/><line x1="390.18" y1="281.50" x2="390.18" y2="283.30" stroke="#111" stroke-width="1.1"/><line x1="391.77" y1="281.50" x2="391.77" y2="283.30" stroke="#111" stroke-width="1.1"/><line x1="393.20" y1="281.50" x2="393.20" y2="284.90" stroke="#111" stroke-width="1.1"/><line x1="402.59" y1="281.50" x2="402.59" y2="283.30" stroke="#111" stroke-width="1.1"/><line x1="408.09" y1="281.50" x2="408.09" y2="283.30" stroke="#111" stroke-width="1.1"/><line x1="411.98" y1="281.50" x2="411.98" y2="283.30" stroke="#111" stroke-width="1.1"/><line x1="415.01" y1="281.50" x2="415.01" y2="283.30" stroke="#111" stroke-width="1.1"/><line x1="417.48" y1="281.50" x2="417.48" y2="283.30" stroke="#111" stroke-width="1.1"/><line x1="419.57" y1="281.50" x2="419.57" y2="283.30" stroke="#111" stroke-width="1.1"/><line x1="421.38" y1="281.50" x2="421.38" y2="283.30" stroke="#111" stroke-width="1.1"/><line x1="422.97" y1="281.50" x2="422.97" y2="283.30" stroke="#111" stroke-width="1.1"/><line x1="424.40" y1="281.50" x2="424.40" y2="284.90" stroke="#111" stroke-width="1.1"/><line x1="433.79" y1="281.50" x2="433.79" y2="283.30" stroke="#111" stroke-width="1.1"/><line x1="439.29" y1="281.50" x2="439.29" y2="283.30" stroke="#111" stroke-width="1.1"/><line x1="443.18" y1="281.50" x2="443.18" y2="283.30" stroke="#111" stroke-width="1.1"/><line x1="446.21" y1="281.50" x2="446.21" y2="283.30" stroke="#111" stroke-width="1.1"/><line x1="448.68" y1="281.50" x2="448.68" y2="283.30" stroke="#111" stroke-width="1.1"/><line x1="450.77" y1="281.50" x2="450.77" y2="283.30" stroke="#111" stroke-width="1.1"/><line x1="452.58" y1="281.50" x2="452.58" y2="283.30" stroke="#111" stroke-width="1.1"/><line x1="454.17" y1="281.50" x2="454.17" y2="283.30" stroke="#111" stroke-width="1.1"/><line x1="455.60" y1="281.50" x2="455.60" y2="284.90" stroke="#111" stroke-width="1.1"/><line x1="464.99" y1="281.50" x2="464.99" y2="283.30" stroke="#111" stroke-width="1.1"/><rect x="362.00" y="174.00" width="107.20" height="107.50" fill="none" stroke="#000" stroke-width="1.5"/><text x="367.00" y="296.10" font-size="8.3" text-anchor="middle" fill="#3a3a3a">10<tspan font-size="5.8" dy="-3.3">2</tspan></text><text x="394.00" y="296.10" font-size="8.3" text-anchor="middle" fill="#3a3a3a">10<tspan font-size="5.8" dy="-3.3">3</tspan></text><text x="425.20" y="296.10" font-size="8.3" text-anchor="middle" fill="#3a3a3a">10<tspan font-size="5.8" dy="-3.3">4</tspan></text><text x="456.40" y="296.10" font-size="8.3" text-anchor="middle" fill="#3a3a3a">10<tspan font-size="5.8" dy="-3.3">5</tspan></text><text transform="translate(338.90,227.95) rotate(-90)" x="0" y="0" font-size="8.6" font-weight="bold" text-anchor="middle" fill="#111" textLength="29.6" lengthAdjust="spacingAndGlyphs">% of max</text><text x="415.60" y="309.90" font-size="8.6" font-weight="bold" text-anchor="middle" fill="#1a1a1a" textLength="34.3" lengthAdjust="spacingAndGlyphs">Ferroportin</text>
<line x1="472.9" y1="184.3" x2="484.4" y2="184.3" stroke="#6a7c5c" stroke-width="1.2" stroke-dasharray="2.3,2"/>
<text x="487.5" y="186.6" font-size="8" fill="#8db574" textLength="24.4" lengthAdjust="spacingAndGlyphs">Untreat</text>
<line x1="472.7" y1="196.6" x2="484.2" y2="196.6" stroke="#a3163f" stroke-width="1.3"/>
<text x="487.2" y="198.3" font-size="8.2" fill="#9c2a4a" textLength="14" lengthAdjust="spacingAndGlyphs">LPS</text>
<rect x="0" y="0" width="520" height="1.6" fill="#000"/>
<rect x="0" y="0" width="1.6" height="320" fill="#000"/>
<rect x="518.45" y="0" width="1.55" height="320" fill="#000"/>
<rect x="0" y="318.45" width="520" height="1.55" fill="#000"/>
</svg></body></html>
